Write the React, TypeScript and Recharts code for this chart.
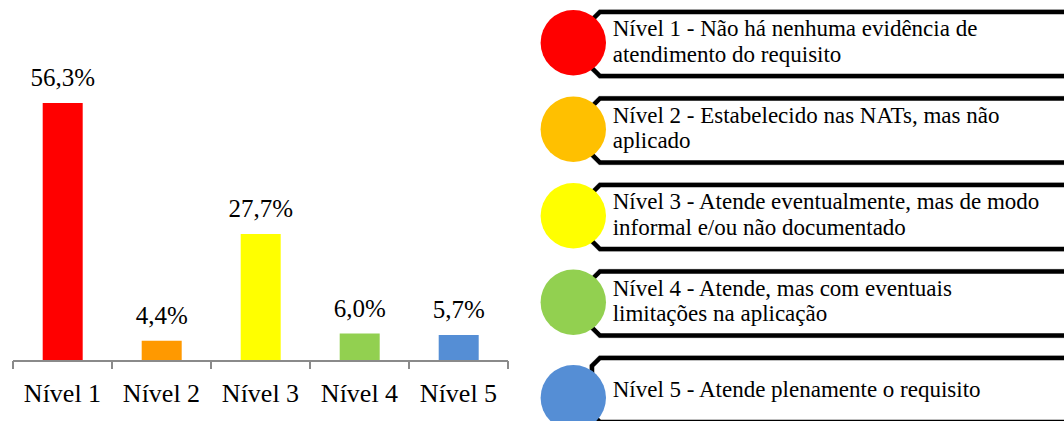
import React from "react";
import { BarChart, Bar, Cell, XAxis, YAxis, LabelList, Legend } from "recharts";

const categories = ["Nível 1", "Nível 2", "Nível 3", "Nível 4", "Nível 5"];
const percentages = [56.3, 4.4, 27.7, 6.0, 5.7];
const barColors = ["#FF0000", "#FF9900", "#FFFF00", "#92D050", "#558ED5"];
const legendColors = ["#FF0000", "#FFC000", "#FFFF00", "#92D050", "#558ED5"];
const levelDescriptions = [
  ["Nível 1 - Não há nenhuma evidência de", "atendimento do requisito"],
  ["Nível 2 - Estabelecido nas NATs, mas não", "aplicado"],
  ["Nível 3 - Atende eventualmente, mas de modo", "informal e/ou não documentado"],
  ["Nível 4 - Atende, mas com eventuais", "limitações na aplicação"],
  ["Nível 5 - Atende plenamente o requisito"],
];

const data = categories.map((name, i) => ({ name, value: percentages[i] }));

const FONT = "Liberation Serif, Times New Roman, serif";
const AXIS_GRAY = "#8a8a8a";

const fmt = (v: number) => v.toFixed(1).replace(".", ",") + "%";

function CategoryTick(props: any) {
  const { x, y, payload, index } = props;
  const half = payload?.offset ?? 49.5;
  return (
    <g>
      <line x1={x - half} x2={x - half} y1={y} y2={y + 8} stroke={AXIS_GRAY} strokeWidth={2} />
      {index === categories.length - 1 && (
        <line x1={x + half} x2={x + half} y1={y} y2={y + 8} stroke={AXIS_GRAY} strokeWidth={2} />
      )}
      <text x={x} y={y + 41} textAnchor="middle" style={{ fontFamily: FONT, fontSize: 26 }} fill="#000">
        {payload.value}
      </text>
    </g>
  );
}

// SmartArt-like legend: circle + chamfered black box per level
function LevelLegend() {
  const step = 86.5;
  return (
    <svg width={534} height={421} style={{ display: "block" }}>
      {levelDescriptions.map((lines, i) => {
        const top = 12 + step * i;
        const bottom = top + 64;
        const mid = (top + bottom) / 2;
        const left = 62;
        const ch = 8;
        const pts = `${left + ch},${top} 560,${top} 560,${bottom} ${left + ch},${bottom} ${left},${bottom - ch} ${left},${top + ch}`;
        const cy = lines.length === 1 ? top + 39.7 : top + 30.7;
        return (
          <g key={i}>
            <polygon points={pts} fill="#fff" stroke="#c4c4c4" strokeWidth={5.5} />
            <polygon points={pts} fill="#fff" stroke="#000" strokeWidth={4.5} />
            <circle cx={43.3} cy={cy} r={32.7} fill={legendColors[i]} />
            <text style={{ fontFamily: FONT, fontSize: 23 }} fill="#000">
              {lines.map((ln, j) => (
                <tspan key={j} x={82.7} y={mid + (j - (lines.length - 1) / 2) * 25.7 + 5 + (lines.length === 1 ? 1.5 : 0)}>
                  {ln}
                </tspan>
              ))}
            </text>
          </g>
        );
      })}
    </svg>
  );
}

export default function App() {
  return (
    <div style={{ position: "absolute", left: 0, top: 0, width: 1064, height: 421, background: "#fff", overflow: "hidden", fontFamily: FONT }}>
      <BarChart
        width={1064}
        height={421}
        data={data}
        margin={{ top: 86, right: 556, bottom: 0, left: 13 }}
        barCategoryGap="30%"
        style={{ fontFamily: FONT }}
      >
        <XAxis
          dataKey="name"
          height={60}
          interval={0}
          tickSize={0}
          tickMargin={0}
          tickLine={false}
          axisLine={{ stroke: AXIS_GRAY, strokeWidth: 2 }}
          tick={<CategoryTick />}
        />
        <YAxis hide domain={[0, 60]} />
        <Bar dataKey="value" isAnimationActive={false}>
          {data.map((_, i) => (
            <Cell key={i} fill={barColors[i]} />
          ))}
          <LabelList
            dataKey="value"
            position="top"
            offset={17}
            formatter={(v: any) => fmt(Number(v))}
            fill="#000"
            style={{ fontFamily: FONT, fontSize: 25 }}
          />
        </Bar>
        <Legend
          layout="horizontal"
          verticalAlign="middle"
          align="center"
          wrapperStyle={{ left: 530, top: 0, width: 534, height: 421 }}
          content={() => <LevelLegend />}
        />
      </BarChart>
    </div>
  );
}
